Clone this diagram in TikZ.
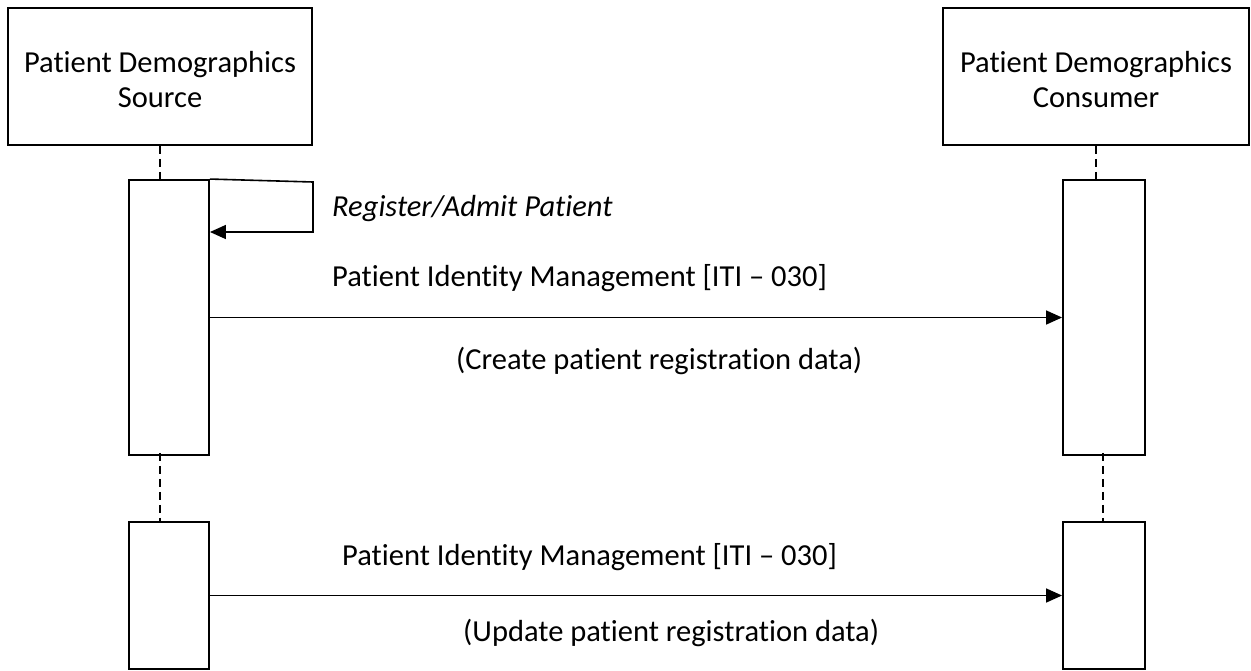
\documentclass[tikz,border=0pt]{standalone}
\usepackage{fontspec}
\setmainfont{Carlito}[Ligatures={NoCommon,NoContextual}]
\usetikzlibrary{arrows.meta,calc}
\newcommand{\hfont}{\fontsize{30.5}{35}\selectfont}
\begin{document}
\begin{tikzpicture}[x=1pt,y=-1pt,
  actor/.style={draw,line width=1.9pt,minimum width=304pt,minimum height=137pt,inner sep=0pt},
  hdtext/.style={align=center,inner sep=0pt,font=\hfont},
  actbox/.style={draw,line width=1.9pt,minimum width=80pt,inner sep=0pt},
  life/.style={line width=1.8pt,dash pattern=on 8pt off 5pt},
  msg/.style={line width=1.6pt,-{Triangle[length=16pt,width=14pt]}},
  lbl/.style={anchor=west,inner sep=0pt,font=\hfont}]
\useasboundingbox (0,0) rectangle (1251,670);
\fill[white] (0,0) rectangle (1251,670);
% actors
\node[actor] (src) at (160,76.5) {};
\node[hdtext] (srcT) at (160,79.5) {Patient Demographics\\Source};
\node[actor,minimum width=306pt] (cons) at (1096,76.5) {};
\node[hdtext] (consT) at (1096,79.5) {Patient Demographics\\Consumer};
% activation boxes
\node[actbox,minimum height=275pt] (s1) at (169,317.5) {};
\node[actbox,minimum height=147pt] (s2) at (169,595.5) {};
\node[actbox,minimum width=82pt,minimum height=275pt] (c1) at (1104,317.5) {};
\node[actbox,minimum width=82pt,minimum height=147pt] (c2) at (1104,595.5) {};
% lifelines
\draw[life] (src.south) -- (src.south |- s1.north);
\draw[life] ([xshift=-9pt,yshift=3pt]s1.south) -- ([xshift=-9pt]s2.north);
\draw[life] (cons.south) -- (cons.south |- c1.north);
\draw[life] ([xshift=-1pt,yshift=3pt]c1.south) -- ([xshift=-1pt]c2.north);
% self loop
\coordinate (loopA) at (313,182);
\coordinate (loopB) at (313,232);
\draw[msg] (s1.north east) -- (loopA) -- (loopB) -- (s1.east |- loopB);
\node[lbl,font=\hfont\itshape] (reg) at (332,209) {Register/Admit Patient};
% messages
\draw[msg] (s1.east) -- (c1.west);
\node[lbl] (pim1) at (332,278) {Patient Identity Management [ITI – 030]};
\node[lbl] (cr) at (456,361) {(Create patient registration data)};
\draw[msg] (s2.east) -- (c2.west);
\node[lbl] (pim2) at (342,557) {Patient Identity Management [ITI – 030]};
\node[lbl] (up) at (463,633) {(Update patient registration data)};
\end{tikzpicture}
\end{document}
